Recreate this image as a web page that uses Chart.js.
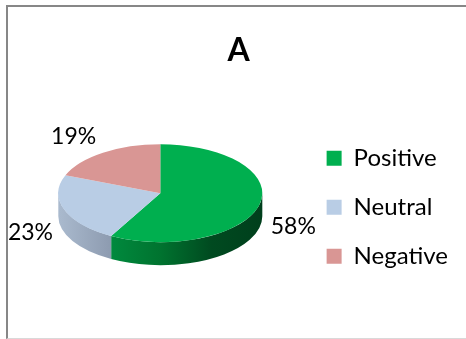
<!DOCTYPE html>
<html>
<head>
<meta charset="utf-8">
<script src="https://cdn.jsdelivr.net/npm/chart.js@4.4.1/dist/chart.umd.min.js"></script>
<style>
  html, body { margin: 0; padding: 0; background: #fff; }
  #wrap { position: relative; width: 466px; height: 339px; overflow: hidden; }
  #frame {
    position: absolute; left: 6px; top: 5px; width: 470px; height: 331px;
    border-left: 2px solid #878787; border-top: 2px solid #878787; border-bottom: 1px solid #d9d9d9;
  }
  canvas { position: absolute; left: 0; top: 0; }
</style>
</head>
<body>
<div id="wrap">
  <div id="frame"></div>
  <canvas id="chart" width="466" height="339"></canvas>
</div>
<script>
const labels = ['Positive', 'Neutral', 'Negative'];
const shares = [58, 23, 19];
const topColors = ['#00AF4F', '#B9CDE5', '#D99694'];
// side wall shading, left -> right across the pie
const sideShades = [
  ['#009845', '#008A3E', '#00732F', '#004A20', '#003F1C'],
  ['#AABACE', '#8E9CB1', '#7F8DA1', '#75828F', '#6D7A88'],
  ['#B97A79', '#A56D6C', '#935F5E', '#7F5150', '#744948']
];

const FONT = 'Lato';
const TILT = 0.48;   // vertical squash of the pie top
const DEPTH = 23;    // thickness of the pie
const LIFT = 14;     // top face raised above the chart area centre

function topCenter(arc) {
  return { x: arc.x, y: arc.y - LIFT, r: arc.outerRadius };
}

const pie3d = {
  id: 'pie3d',
  beforeDatasetsDraw(chart) {
    const ctx = chart.ctx;
    const arcs = chart.getDatasetMeta(0).data;
    if (!arcs.length) return;
    const { x, y, r } = topCenter(arcs[0]);

    // front walls (angles 0..PI are the visible half)
    arcs.forEach((arc, i) => {
      const s = Math.max(arc.startAngle, 0);
      const e = Math.min(arc.endAngle, Math.PI);
      if (e <= s) return;
      const grad = ctx.createLinearGradient(x - r, 0, x + r, 0);
      const stops = sideShades[i];
      stops.forEach((c, k) => grad.addColorStop(k / (stops.length - 1), c));
      ctx.save();
      ctx.beginPath();
      ctx.ellipse(x, y, r, r * TILT, 0, s, e);
      ctx.ellipse(x, y + DEPTH, r, r * TILT, 0, e, s, true);
      ctx.closePath();
      ctx.fillStyle = grad;
      ctx.fill();
      ctx.restore();
    });

    // squash the top face
    ctx.save();
    ctx.translate(x, y);
    ctx.scale(1, TILT);
    ctx.translate(-x, -arcs[0].y);
  },
  afterDatasetsDraw(chart) {
    chart.ctx.restore();
  }
};

const pieLabels = {
  id: 'pieLabels',
  afterDraw(chart) {
    const ctx = chart.ctx;
    const arcs = chart.getDatasetMeta(0).data;
    ctx.save();
    ctx.font = `23px ${FONT}`;
    ctx.fillStyle = '#000';
    ctx.textBaseline = 'middle';
    arcs.forEach((arc, i) => {
      const { x, y, r } = topCenter(arc);
      const mid = (arc.startAngle + arc.endAngle) / 2;
      const c = Math.cos(mid), s = Math.sin(mid);
      const ex = x + r * c;
      const ey = y + r * TILT * s;
      const lx = ex + c * 12;
      const ly = ey + s * 20 + (s > 0 ? DEPTH * 0.7 : 0);
      ctx.textAlign = c >= 0 ? 'left' : 'right';
      ctx.fillText(shares[i] + '%', lx, ly);
    });
    ctx.restore();
  }
};

new Chart(document.getElementById('chart'), {
  type: 'pie',
  data: {
    labels: labels,
    datasets: [{
      data: shares,
      backgroundColor: topColors,
      borderWidth: 0,
      radius: 102
    }]
  },
  options: {
    responsive: false,
    animation: false,
    layout: { padding: { left: 19, right: 8, top: 0, bottom: 0 } },
    plugins: {
      title: {
        display: true,
        text: 'A',
        color: '#000',
        font: { family: FONT, size: 32, weight: 'bold' },
        padding: { top: 31, bottom: 6 }
      },
      legend: {
        position: 'right',
        fullSize: false,
        labels: {
          boxWidth: 15,
          boxHeight: 15,
          padding: 25,
          color: '#000',
          font: { family: FONT, size: 24 }
        }
      },
      tooltip: { enabled: false }
    }
  },
  plugins: [pie3d, pieLabels]
});
</script>
</body>
</html>
